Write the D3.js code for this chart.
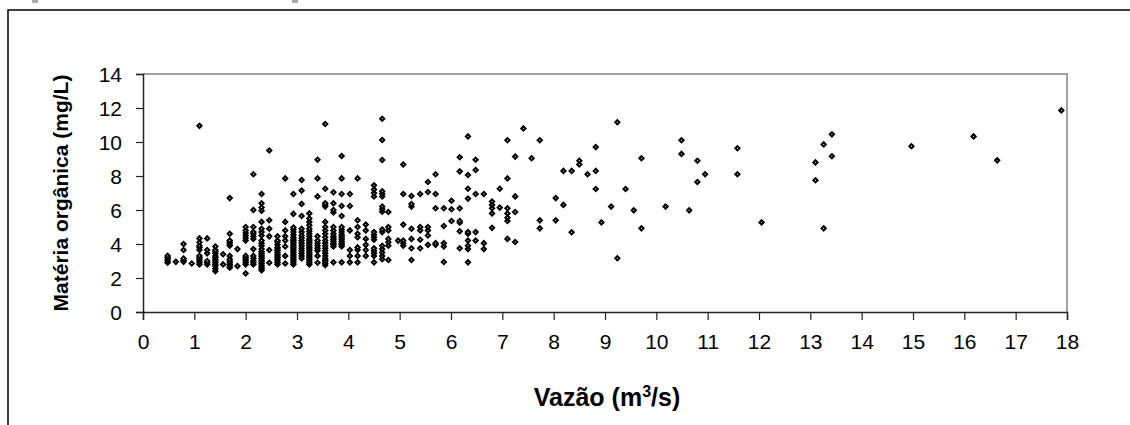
<!DOCTYPE html>
<html lang="pt">
<head>
    <meta charset="UTF-8">
    <title>Matéria orgânica x Vazão</title>
    <script src="https://d3js.org/d3.v7.min.js"></script>
    <style>
        body {
            margin: 0;
            background: #fff;
        }
        svg text {
            font-family: Arial, "Liberation Sans", sans-serif;
            fill: #000;
        }
        .tick-label { font-size: 21px; }
        .axis-title { font-weight: bold; }
    </style>
</head>
<body>
    <svg id="chart" width="1130" height="425"></svg>
    <script>
        // Vazão (m3/s) of each column of points
        const vazao = [
            0.48, 0.64, 0.79, 0.95, 1.10, 1.25, 1.41, 1.56, 1.69, 1.84,
            2.00, 2.15, 2.31, 2.46, 2.62, 2.77, 2.93, 3.09, 3.24, 3.40,
            3.55, 3.71, 3.87, 4.03, 4.18, 4.34, 4.50, 4.66, 4.78, 4.97,
            5.07, 5.23, 5.40, 5.55, 5.70, 5.86, 6.01, 6.17, 6.33, 6.48,
            6.64, 6.80, 6.95, 7.10, 7.25, 7.41, 7.57, 7.73, 8.04, 8.19,
            8.35, 8.50, 8.66, 8.82, 8.93, 9.12, 9.24, 9.40, 9.56, 9.71,
            10.18, 10.49, 10.64, 10.80, 10.95, 11.58, 12.05, 13.10, 13.26, 13.42,
            14.97, 16.18, 16.64, 17.89
        ];

        // Matéria orgânica (mg/L) measured at each vazão above
        const materia = [
            [2.9, 3.0, 3.1, 3.2, 3.3],
            [2.95],
            [2.95, 3.05, 3.15, 3.65, 4.0],
            [2.85],
            [2.8, 2.9, 3.0, 3.1, 3.2, 3.3, 3.65, 3.8, 3.9, 4.1, 4.33, 10.95],
            [2.8, 2.9, 3.0, 3.45, 3.65, 4.33],
            [2.4, 2.55, 2.7, 2.8, 2.9, 3.0, 3.1, 3.2, 3.3, 3.45, 3.55, 3.65, 3.85],
            [2.8, 3.4],
            [2.6, 2.7, 2.8, 2.9, 3.0, 3.1, 3.3, 3.9, 4.0, 4.1, 4.2, 4.6, 6.7],
            [2.7, 3.7],
            [2.27, 2.8, 2.9, 3.0, 3.1, 3.2, 3.3, 4.2, 4.35, 4.5, 4.65, 4.8, 5.0],
            [2.8, 2.9, 3.0, 3.15, 3.3, 3.7, 4.3, 4.45, 4.6, 4.7, 5.0, 6.0, 8.1],
            [2.45, 2.55, 2.65, 2.75, 2.85, 2.95, 3.05, 3.15, 3.25, 3.35, 3.45, 3.55, 3.7, 3.9, 4.05, 4.2, 4.5, 4.7, 4.9, 5.3, 5.95, 6.15, 6.4, 6.94],
            [2.9, 3.65, 4.45, 4.9, 5.4, 9.5],
            [2.8, 2.9, 3.0, 3.1, 3.2, 3.3, 3.4, 3.5, 3.6, 3.7, 3.8, 3.95, 4.1, 4.2, 4.45],
            [2.85, 3.3, 3.85, 4.2, 4.45, 4.8, 5.3, 7.86],
            [2.8, 2.9, 3.0, 3.1, 3.2, 3.3, 3.4, 3.5, 3.6, 3.7, 3.8, 3.9, 4.0, 4.1, 4.2, 4.3, 4.4, 4.55, 4.7, 4.85, 4.97, 5.77, 6.94],
            [3.15, 3.3, 3.45, 3.6, 3.75, 3.9, 4.05, 4.2, 4.35, 4.5, 4.7, 4.9, 5.65, 6.36, 7.14, 7.76],
            [2.8, 2.9, 3.0, 3.1, 3.2, 3.3, 3.4, 3.5, 3.6, 3.7, 3.8, 3.9, 4.0, 4.1, 4.2, 4.3, 4.45, 4.6, 4.75, 4.9, 5.1, 5.3, 5.5, 5.8],
            [2.9, 3.3, 3.6, 3.75, 3.9, 4.05, 4.2, 4.45, 6.8, 7.86, 8.96],
            [2.75, 2.85, 2.95, 3.05, 3.15, 3.3, 3.45, 3.6, 3.75, 3.9, 4.05, 4.2, 4.4, 4.6, 4.8, 5.0, 5.3, 6.2, 6.3, 6.4, 7.25, 11.06],
            [2.92, 3.86, 3.95, 4.05, 4.15, 4.25, 4.35, 4.45, 4.6, 4.8, 5.0, 5.85, 6.0, 6.4, 7.04],
            [2.92, 3.86, 3.95, 4.05, 4.15, 4.25, 4.35, 4.45, 4.55, 4.7, 4.85, 5.0, 5.65, 6.24, 6.94, 7.86, 9.18],
            [2.92, 3.3, 3.65, 4.8, 6.24, 6.94],
            [2.92, 3.3, 3.65, 3.8, 4.4, 4.6, 5.0, 5.4, 7.86],
            [3.3, 3.65, 3.95, 4.3, 4.8, 5.14],
            [2.92, 3.3, 3.45, 3.6, 3.75, 4.25, 4.4, 4.55, 4.7, 6.8, 7.0, 7.2, 7.45],
            [3.1, 3.3, 3.5, 3.7, 3.9, 4.7, 4.85, 5.9, 6.05, 6.2, 6.8, 6.95, 7.1, 8.94, 10.12, 11.37],
            [3.06, 3.9, 4.1, 4.3, 4.8, 5.0, 5.88],
            [4.2],
            [3.9, 4.05, 4.2, 5.14, 6.94, 8.68],
            [3.06, 3.75, 4.3, 4.9, 6.2, 6.35, 6.82],
            [3.75, 4.25, 4.8, 5.0, 6.94],
            [3.95, 4.5, 4.8, 5.0, 7.06, 7.65],
            [3.95, 4.05, 6.1, 6.94, 8.1],
            [2.94, 3.85, 4.05, 5.06, 6.1],
            [5.35, 6.04, 6.54],
            [3.75, 4.75, 5.25, 5.35, 6.1, 8.27, 9.1],
            [2.92, 3.7, 3.9, 4.2, 4.6, 4.7, 6.67, 7.25, 8.06, 10.33],
            [4.2, 4.7, 6.94, 8.35, 8.96],
            [3.7, 4.05, 6.94],
            [4.95, 5.8, 6.1, 6.3, 6.5],
            [6.14, 7.25],
            [4.3, 5.35, 5.55, 5.8, 6.1, 7.86, 10.1],
            [4.12, 5.88, 6.8, 9.14],
            [10.8],
            [9.04],
            [4.92, 5.39, 10.1],
            [5.39, 6.7],
            [6.3, 8.3],
            [4.69, 8.3],
            [8.68, 8.9],
            [8.1],
            [7.24, 8.3, 9.7],
            [5.27],
            [6.2],
            [3.16, 11.16],
            [7.24],
            [5.98],
            [4.92, 9.04],
            [6.2],
            [9.3, 10.1],
            [5.98],
            [7.65, 8.9],
            [8.1],
            [8.1, 9.63],
            [5.27],
            [7.75, 8.8],
            [4.92, 9.86],
            [9.16, 10.45],
            [9.75],
            [10.33],
            [8.92],
            [11.86]
        ];

        const xTicks = d3.range(0, 19, 1);
        const yTicks = d3.range(0, 15, 2);

        const points = [];
        vazao.forEach((v, i) => {
            materia[i].forEach(m => points.push({ x: v, y: m }));
        });

        const svg = d3.select("#chart");
        const margin = { left: 143, right: 1067, top: 74, bottom: 312 };

        const x = d3.scaleLinear().domain([0, 18]).range([margin.left, margin.right]);
        const y = d3.scaleLinear().domain([0, 14]).range([margin.bottom, margin.top]);

        // outer frame (top and left only)
        svg.append("path")
            .attr("d", "M8,425V10H1130")
            .attr("fill", "none")
            .attr("stroke", "#000")
            .attr("stroke-width", 1.5);

        // small marks at top edge
        svg.append("rect").attr("x", 32).attr("y", 0).attr("width", 6).attr("height", 3).attr("fill", "#aaa");
        svg.append("rect").attr("x", 292).attr("y", 0).attr("width", 6).attr("height", 3).attr("fill", "#aaa");

        // plot area top and right border
        svg.append("path")
            .attr("d", `M${margin.left},${margin.top}H${margin.right}V${margin.bottom}`)
            .attr("fill", "none")
            .attr("stroke", "#a0a0a0")
            .attr("stroke-width", 2);

        // axes
        const xAxis = svg.append("g")
            .attr("transform", `translate(0,${margin.bottom})`)
            .call(d3.axisBottom(x).tickValues(xTicks).tickSize(8).tickPadding(14).tickFormat(d3.format("d")));
        const yAxis = svg.append("g")
            .attr("transform", `translate(${margin.left},0)`)
            .call(d3.axisLeft(y).tickValues(yTicks).tickSize(7).tickPadding(14).tickFormat(d3.format("d")));

        [xAxis, yAxis].forEach(g => {
            g.select(".domain").attr("stroke", "#222").attr("stroke-width", 1.5);
            g.selectAll(".tick line").attr("stroke", "#222").attr("stroke-width", 1.2);
            g.selectAll(".tick text")
                .attr("class", "tick-label")
                .attr("font-family", null)
                .attr("font-size", null)
                .attr("fill", "#000");
        });
        yAxis.selectAll(".tick text").attr("dy", "0.36em");

        // points
        const diamond = d3.symbol().type(d3.symbolSquare).size(9);
        svg.append("g")
            .selectAll("path")
            .data(points)
            .join("path")
            .attr("d", diamond)
            .attr("transform", d => `translate(${x(d.x)},${y(d.y)}) rotate(45)`)
            .attr("fill", "#fff")
            .attr("stroke", "#000")
            .attr("stroke-width", 2);

        // axis titles
        const xTitle = svg.append("text")
            .attr("class", "axis-title")
            .attr("x", (margin.left + margin.right) / 2 + 2)
            .attr("y", 406)
            .attr("text-anchor", "middle")
            .attr("font-size", 25);
        xTitle.append("tspan").text("Vazão (m");
        xTitle.append("tspan").attr("dy", -9).attr("font-size", 16).text("3");
        xTitle.append("tspan").attr("dy", 9).text("/s)");

        svg.append("text")
            .attr("class", "axis-title")
            .attr("transform", `translate(68,${(margin.top + margin.bottom) / 2}) rotate(-90)`)
            .attr("text-anchor", "middle")
            .attr("font-size", 21)
            .text("Matéria orgânica (mg/L)");
    </script>
</body>
</html>
